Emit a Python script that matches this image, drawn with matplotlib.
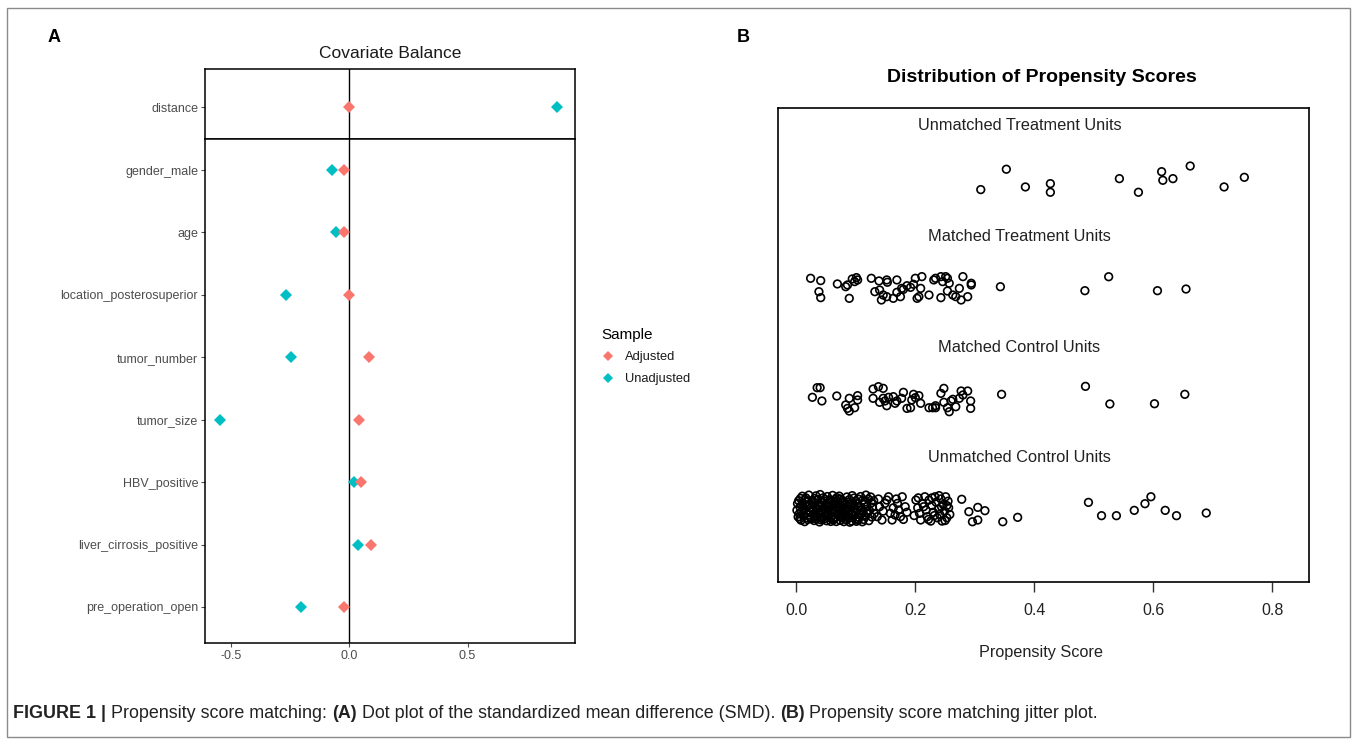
import matplotlib
matplotlib.use("Agg")
import matplotlib.pyplot as plt
from matplotlib.lines import Line2D
from matplotlib.patches import Rectangle

plt.rcParams['font.family'] = ['Liberation Sans', 'DejaVu Sans']

W, H = 1357, 744

# --- panel A data: standardized mean differences ---
covariates = ["distance", "gender_male", "age", "location_posterosuperior", "tumor_number",
              "tumor_size", "HBV_positive", "liver_cirrosis_positive", "pre_operation_open"]
smd_adjusted = [0.0, -0.023, -0.023, -0.002, 0.082, 0.042, 0.049, 0.093, -0.023]
smd_unadjusted = [0.88, -0.075, -0.057, -0.27, -0.248, -0.549, 0.017, 0.034, -0.206]
smd_ticks = [-0.5, 0.0, 0.5]
sample_labels = ["Adjusted", "Unadjusted"]

# --- panel B data: (propensity score, vertical jitter) ---
row_labels = ["Unmatched Treatment Units", "Matched Treatment Units",
              "Matched Control Units", "Unmatched Control Units"]
score_ticks = [0.0, 0.2, 0.4, 0.6, 0.8]

unmatched_treat = [(0.310, -0.106), (0.353, 0.078), (0.385, -0.082), (0.427, -0.052), (0.427, -0.130),
                   (0.543, -0.007), (0.575, -0.130), (0.614, 0.056), (0.616, -0.022), (0.633, -0.007),
                   (0.662, 0.107), (0.719, -0.082), (0.753, 0.005)]

matched_treat = [(0.024, 0.093), (0.041, 0.072), (0.038, -0.028), (0.041, -0.082), (0.069, 0.042),
                 (0.089, -0.088), (0.083, 0.017), (0.086, 0.033), (0.094, 0.087), (0.098, 0.063),
                 (0.103, 0.078), (0.101, 0.099), (0.126, 0.093), (0.139, 0.069), (0.152, 0.078),
                 (0.153, 0.057), (0.169, 0.078), (0.132, -0.028), (0.140, -0.013), (0.146, -0.058),
                 (0.143, -0.103), (0.152, -0.073), (0.163, -0.088), (0.169, -0.034), (0.175, -0.073),
                 (0.177, 0.002), (0.186, 0.026), (0.180, -0.007), (0.192, 0.011), (0.197, 0.039),
                 (0.200, 0.093), (0.211, 0.108), (0.209, 0.002), (0.203, -0.088), (0.206, -0.073),
                 (0.223, -0.058), (0.231, 0.078), (0.234, 0.093), (0.243, 0.108), (0.246, 0.063),
                 (0.251, 0.108), (0.254, 0.093), (0.257, 0.048), (0.243, -0.082), (0.254, -0.022),
                 (0.263, -0.058), (0.268, -0.073), (0.274, 0.002), (0.277, -0.103), (0.280, 0.108),
                 (0.288, -0.073), (0.294, 0.048), (0.294, 0.033), (0.343, 0.017),
                 (0.485, -0.019), (0.525, 0.107), (0.607, -0.019), (0.655, -0.004)]

matched_ctrl = [(0.035, 0.105), (0.040, 0.105), (0.027, 0.018), (0.043, -0.015), (0.068, 0.030),
                (0.089, 0.009), (0.083, -0.051), (0.086, -0.082), (0.089, -0.106), (0.098, -0.076),
                (0.103, -0.006), (0.103, 0.033), (0.129, 0.093), (0.138, 0.114), (0.146, 0.099),
                (0.129, 0.009), (0.140, -0.027), (0.146, 0.009), (0.149, -0.015), (0.152, -0.058),
                (0.155, 0.018), (0.163, 0.024), (0.166, -0.036), (0.169, -0.015), (0.177, 0.009),
                (0.180, 0.063), (0.186, -0.082), (0.192, -0.076), (0.194, -0.006), (0.197, 0.045),
                (0.200, 0.015), (0.206, 0.033), (0.209, -0.036), (0.223, -0.076), (0.229, -0.076),
                (0.234, -0.076), (0.234, -0.058), (0.243, 0.054), (0.248, 0.099), (0.248, -0.027),
                (0.254, -0.076), (0.257, -0.112), (0.260, -0.015), (0.263, 0.000), (0.268, -0.067),
                (0.274, 0.009), (0.277, 0.075), (0.280, 0.039), (0.288, 0.075), (0.293, -0.015),
                (0.293, -0.082), (0.345, 0.045), (0.486, 0.117), (0.527, -0.042), (0.602, -0.040),
                (0.653, 0.045)]

unmatched_ctrl = [
    (0.010, 0.125), (0.021, 0.135), (0.033, 0.128), (0.040, 0.140), (0.052, 0.122), (0.061, 0.132),
    (0.072, 0.126), (0.085, 0.118), (0.094, 0.130), (0.108, 0.122), (0.117, 0.135), (0.125, 0.118),
    (0.004, 0.085), (0.015, 0.095), (0.027, 0.088), (0.036, 0.096), (0.046, 0.083), (0.057, 0.092),
    (0.066, 0.098), (0.078, 0.086), (0.089, 0.094), (0.099, 0.081), (0.112, 0.090), (0.121, 0.099),
    (0.130, 0.084), (0.002, 0.058), (0.011, 0.064), (0.022, 0.052), (0.031, 0.061), (0.043, 0.067),
    (0.050, 0.055), (0.063, 0.060), (0.070, 0.052), (0.081, 0.066), (0.092, 0.058), (0.103, 0.062),
    (0.114, 0.050), (0.126, 0.064), (0.006, 0.028), (0.017, 0.034), (0.025, 0.022), (0.038, 0.031),
    (0.047, 0.026), (0.055, 0.036), (0.068, 0.024), (0.076, 0.032), (0.087, 0.027), (0.097, 0.035),
    (0.106, 0.021), (0.119, 0.030), (0.128, 0.025), (0.001, -0.002), (0.013, 0.004), (0.023, -0.006),
    (0.034, 0.002), (0.042, -0.004), (0.054, 0.006), (0.060, -0.001), (0.073, 0.003), (0.083, -0.007),
    (0.091, 0.005), (0.102, -0.003), (0.110, 0.004), (0.123, -0.005), (0.005, -0.032), (0.016, -0.026),
    (0.029, -0.035), (0.037, -0.028), (0.049, -0.031), (0.058, -0.024), (0.069, -0.036), (0.079, -0.029),
    (0.088, -0.033), (0.100, -0.025), (0.109, -0.034), (0.118, -0.027), (0.131, -0.031), (0.003, -0.062),
    (0.012, -0.055), (0.024, -0.066), (0.035, -0.058), (0.044, -0.061), (0.053, -0.054), (0.065, -0.064),
    (0.075, -0.057), (0.086, -0.060), (0.096, -0.056), (0.105, -0.066), (0.116, -0.059), (0.127, -0.063),
    (0.008, -0.092), (0.019, -0.086), (0.030, -0.095), (0.041, -0.088), (0.051, -0.097), (0.062, -0.090),
    (0.074, -0.094), (0.084, -0.087), (0.093, -0.099), (0.104, -0.091), (0.113, -0.085), (0.122, -0.096),
    (0.014, -0.105), (0.039, -0.108), (0.067, -0.104), (0.090, -0.110), (0.111, -0.106),
    (0.016, 0.110), (0.028, 0.072), (0.045, 0.110), (0.056, 0.075), (0.068, 0.112), (0.079, 0.045),
    (0.097, 0.108), (0.009, 0.045), (0.034, 0.015), (0.050, -0.014), (0.064, 0.012), (0.082, 0.010),
    (0.095, -0.012), (0.020, -0.045), (0.040, -0.044), (0.058, -0.076), (0.071, -0.046), (0.089, -0.073),
    (0.107, -0.045), (0.025, -0.078), (0.047, -0.078), (0.100, -0.078), (0.115, 0.072), (0.120, -0.012),
    (0.007, 0.105), (0.019, 0.076), (0.031, 0.104), (0.038, 0.047), (0.048, 0.098), (0.059, 0.048),
    (0.065, 0.080), (0.074, 0.100), (0.086, 0.072), (0.093, 0.044), (0.104, 0.100), (0.011, 0.015),
    (0.021, 0.040), (0.028, 0.008), (0.045, 0.012), (0.052, 0.044), (0.062, -0.016), (0.071, 0.018),
    (0.078, -0.015), (0.087, -0.018), (0.098, 0.016), (0.009, -0.016), (0.018, -0.070), (0.031, -0.050),
    (0.043, -0.076), (0.055, -0.044), (0.064, -0.080), (0.077, -0.072), (0.081, -0.047), (0.094, -0.042),
    (0.006, -0.078), (0.033, -0.080), (0.058, -0.103), (0.080, -0.105), (0.101, -0.102), (0.112, -0.018),
    # sparser middle group
    (0.140, 0.030), (0.149, 0.060), (0.155, 0.120), (0.158, -0.030), (0.161, -0.090), (0.170, 0.060),
    (0.172, 0.000), (0.175, -0.060), (0.178, 0.120), (0.183, 0.030), (0.136, -0.060), (0.144, -0.090),
    (0.152, 0.090), (0.166, -0.045), (0.138, 0.100), (0.146, -0.010), (0.163, 0.020), (0.186, -0.020),
    (0.180, -0.085), (0.168, 0.100),
    # group around 0.2-0.26
    (0.201, 0.090), (0.204, 0.020), (0.207, -0.030), (0.209, -0.090), (0.212, 0.060), (0.216, 0.120),
    (0.218, 0.000), (0.220, -0.060), (0.223, 0.090), (0.226, -0.100), (0.228, 0.040), (0.230, -0.020),
    (0.233, 0.120), (0.235, 0.070), (0.237, -0.070), (0.239, 0.010), (0.241, -0.040), (0.243, 0.100),
    (0.245, -0.100), (0.247, 0.050), (0.249, -0.010), (0.251, 0.120), (0.253, -0.070), (0.255, 0.080),
    (0.256, 0.020), (0.258, -0.040), (0.240, 0.130), (0.222, -0.085), (0.214, 0.030), (0.250, -0.095),
    (0.198, -0.050), (0.205, 0.110), (0.232, -0.050), (0.244, 0.030), (0.228, 0.110), (0.253, 0.040),
    # scattered
    (0.278, 0.097), (0.290, -0.015), (0.305, 0.024), (0.317, -0.006), (0.296, -0.106), (0.305, -0.090),
    (0.347, -0.106), (0.372, -0.066), (0.491, 0.069), (0.513, -0.051), (0.538, -0.051), (0.568, -0.003),
    (0.586, 0.057), (0.596, 0.120), (0.620, -0.003), (0.639, -0.051), (0.689, -0.027)]

red = "#F8766D"
teal = "#00BFC4"


def box(l, t, r, b):
    return [l / W, 1 - b / H, (r - l) / W, (b - t) / H]


fig = plt.figure(figsize=(W / 100, H / 100), dpi=100)

# outer frame
fig.add_artist(Rectangle((7 / W, 1 - 737 / H), 1343 / W, 729 / H, transform=fig.transFigure,
                         fill=False, ec="#8a8a8a", lw=1))

# ---------------- panel A ----------------
ax_top = fig.add_axes(box(205, 69, 574.5, 139))
ax_bot = fig.add_axes(box(205, 139, 574.5, 643))
for ax in (ax_top, ax_bot):
    ax.set_xlim(-0.612, 0.953)
    ax.axvline(0, color="black", lw=1)
    for s in ax.spines.values():
        s.set_linewidth(1.1)
    ax.tick_params(colors="#4d4d4d", length=3, width=0.8, labelsize=9, pad=2)

ax_top.plot(smd_unadjusted[0], 0, "D", color=teal, ms=5.8, mew=0)
ax_top.plot(smd_adjusted[0], 0, "D", color=red, ms=5.8, mew=0)
ax_top.set_ylim(0.505, -0.6)
ax_top.set_yticks([0])
ax_top.set_yticklabels(covariates[:1])
ax_top.set_xticks([])

rows = list(range(len(covariates) - 1))
ax_bot.plot(smd_unadjusted[1:], rows, "D", color=teal, ms=5.8, mew=0, ls="none")
ax_bot.plot(smd_adjusted[1:], rows, "D", color=red, ms=5.8, mew=0, ls="none")
ax_bot.set_ylim(7.577, -0.497)
ax_bot.set_yticks(rows)
ax_bot.set_yticklabels(covariates[1:])
ax_bot.set_xticks(smd_ticks)
ax_bot.set_xticklabels([f"{t:.1f}" for t in smd_ticks])

fig.text(390 / W, 1 - 53 / H, "Covariate Balance", ha="center", va="center", fontsize=12.5, color="#1a1a1a")
fig.text(48 / W, 1 - 38 / H, "A", ha="left", va="center", fontsize=13, fontweight="bold")

handles = [Line2D([], [], ls="none", marker="D", color=red, ms=5.5, mew=0),
           Line2D([], [], ls="none", marker="D", color=teal, ms=5.5, mew=0)]
fig.legend(handles, sample_labels, title="Sample", loc="upper left",
           bbox_to_anchor=(590 / W, 1 - 316 / H), frameon=False, fontsize=9.3,
           title_fontsize=11, alignment="left", handlelength=1, handletextpad=0.8,
           labelspacing=0.75, labelcolor="#1a1a1a")

# ---------------- panel B ----------------
axb = fig.add_axes(box(778, 108, 1309, 582))
axb.set_xlim(-0.0308, 0.8617)
axb.set_ylim(0.35, 4.631)
axb.set_yticks([])
axb.set_xticks(score_ticks)
axb.set_xticklabels([f"{t:.1f}" for t in score_ticks])
axb.tick_params(axis="x", length=7, width=1, pad=8, labelsize=11.5, color="#333333", labelcolor="#222222")
for s in axb.spines.values():
    s.set_linewidth(1.2)

groups = [unmatched_treat, matched_treat, matched_ctrl, unmatched_ctrl]
for i, (label, pts) in enumerate(zip(row_labels, groups)):
    row = 4 - i
    xs = [p[0] for p in pts]
    ys = [row + p[1] for p in pts]
    axb.scatter(xs, ys, s=30, facecolors="none", edgecolors="black", linewidths=1.2)
    axb.text(0.375, row + 0.47, label, ha="center", va="center", fontsize=11.8, color="#222222")

fig.text(1041 / W, 1 - 652 / H, "Propensity Score", ha="center", va="center", fontsize=11.7, color="#222222")
fig.text(1042 / W, 1 - 78 / H, "Distribution of Propensity Scores", ha="center", va="center",
         fontsize=14, fontweight="bold")
fig.text(743 / W, 1 - 38 / H, "B", ha="center", va="center", fontsize=13, fontweight="bold")

# ---------------- caption ----------------
parts = [("FIGURE 1 |", "bold"), (" Propensity score matching: ", "normal"), ("(A)", "bold"),
         (" Dot plot of the standardized mean difference (SMD). ", "normal"), ("(B)", "bold"),
         (" Propensity score matching jitter plot.", "normal")]
r = fig.canvas.get_renderer()
x = 13 / W
for s, w in parts:
    t = fig.text(x, 1 - 713 / H, s, fontsize=12.9, fontweight=w, va="center", color="#222222")
    x += t.get_window_extent(renderer=r).width / W

fig.savefig("out.png", dpi=100)
